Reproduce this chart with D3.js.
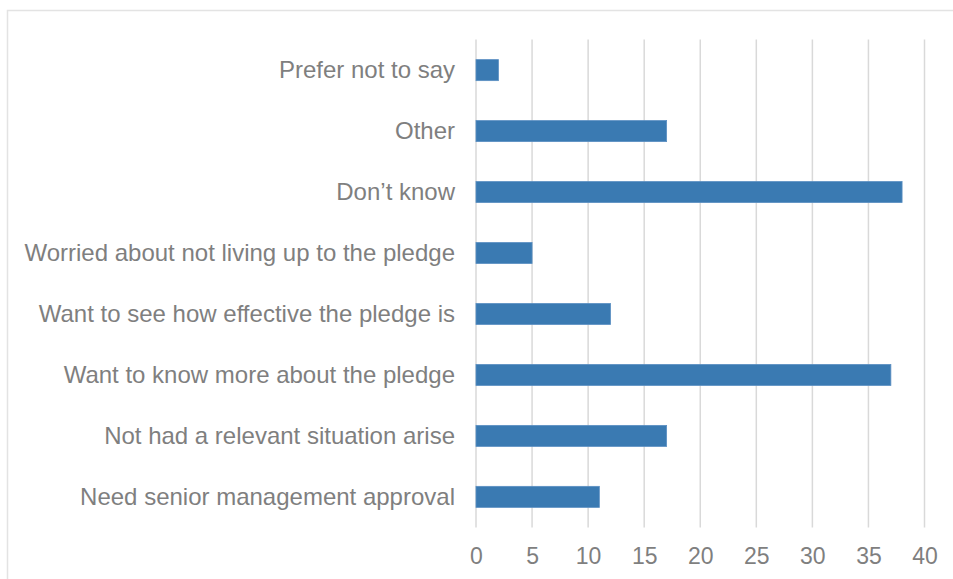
<!DOCTYPE html>
<html>
<head>
<meta charset="utf-8">
<script src="https://cdn.jsdelivr.net/npm/d3@7"></script>
<style>
  html, body { margin: 0; padding: 0; background: #ffffff; }
  svg { display: block; }
</style>
</head>
<body>
<svg id="chart" width="953" height="579"></svg>
<script>
// Reasons given, listed top to bottom
const categories = [
  "Prefer not to say",
  "Other",
  "Don\u2019t know",
  "Worried about not living up to the pledge",
  "Want to see how effective the pledge is",
  "Want to know more about the pledge",
  "Not had a relevant situation arise",
  "Need senior management approval"
];
const values = [2, 17, 38, 5, 12, 37, 17, 11];
const tickValues = [0, 5, 10, 15, 20, 25, 30, 35, 40];

const svg = d3.select("#chart");
const W = 953, H = 579;
const textColor = "#7f7f7f";
const gridColor = "#d9d9d9";
const barColor = "#3a7ab2";
const fontFamily = "'Liberation Sans', Arial, sans-serif";

// Chart frame (runs off the right and bottom edges)
svg.append("rect")
  .attr("x", 7.5).attr("y", 10.5)
  .attr("width", W + 10).attr("height", H + 10)
  .attr("fill", "#ffffff")
  .attr("stroke", "#e3e3e3")
  .attr("stroke-width", 1.5);

const plot = { left: 476, right: 924.5, top: 39.5, bottom: 527.5 };

const x = d3.scaleLinear().domain([0, 40]).range([plot.left, plot.right]);
const y = d3.scaleBand().domain(categories).range([plot.top, plot.bottom]).paddingInner(0.655).paddingOuter(0.33);

// Vertical gridlines
svg.append("g")
  .selectAll("line")
  .data(tickValues)
  .join("line")
  .attr("x1", d => x(d)).attr("x2", d => x(d))
  .attr("y1", plot.top).attr("y2", plot.bottom)
  .attr("stroke", gridColor)
  .attr("stroke-width", 1.5);

// Bars
svg.append("g")
  .selectAll("rect")
  .data(categories)
  .join("rect")
  .attr("x", x(0))
  .attr("y", d => y(d))
  .attr("width", (d, i) => x(values[i]) - x(0))
  .attr("height", y.bandwidth())
  .attr("fill", barColor)
  .attr("stroke", "#5b8fc2")
  .attr("stroke-width", 0.8);

// Category labels
const yAxis = d3.axisLeft(y).tickSize(0).tickPadding(21);
const gy = svg.append("g")
  .attr("transform", `translate(${plot.left},0)`)
  .call(yAxis);
gy.select(".domain").remove();
gy.selectAll("text")
  .attr("fill", textColor)
  .style("font-family", fontFamily)
  .style("font-size", "24px");

// Value axis labels
const xAxis = d3.axisBottom(x).tickValues(tickValues).tickSize(0).tickPadding(18).tickFormat(d3.format("d"));
const gx = svg.append("g")
  .attr("transform", `translate(0,${plot.bottom + 2})`)
  .call(xAxis);
gx.select(".domain").remove();
gx.selectAll("text")
  .attr("fill", textColor)
  .style("font-family", fontFamily)
  .style("font-size", "23px");
</script>
</body>
</html>
